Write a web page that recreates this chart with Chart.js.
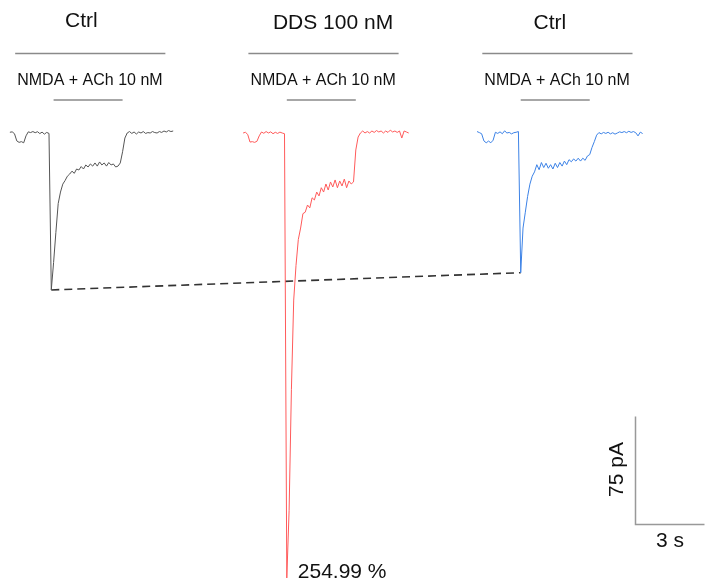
<!DOCTYPE html>
<html>
<head>
<meta charset="utf-8">
<script src="https://cdn.jsdelivr.net/npm/chart.js@4"></script>
<style>
  body { margin: 0; background: #fff; }
  canvas { display: block; }
</style>
</head>
<body>
<canvas id="traces" width="725" height="582"></canvas>
<script>
const dt = 0.1;
const ctrlTrace1 = [0.5, 0.8, -0.5, -5.5, -6.5, -6, -6.8, -2, 0.8, 0.3, 1, 0.2, 0.9, -0.4, 0.6, -0.8, 0.4, -0.3,
  -109, -90, -69, -49, -41, -35.5, -33, -30, -28.5, -26.5, -28, -25, -25.7, -23.3, -25, -22.2, -23.6, -21.5,
  -23, -20.8, -23, -20.1, -22.2, -20.8, -23, -20.5, -22.2, -21.5, -23.6, -23, -20.8, -13, -3.5, 0,
  1, -0.3, 0.7, -0.7, 0.7, 0, 1, -0.3, 0.3, 0, 1, 0.3, 0, 1, 0.4, 1.4, 0.7, 1.7, 1, 1.4];
const ddsTrace = [0, 0.5, -1, -6.3, -6, -6.5, -5.8, -2, 0.7, -0.2, 1, 0, 0.8, -0.5, 0.5, -0.3, 0.6, 0, -0.5,
  -309, -262, -178, -116, -92, -74, -66, -56, -55, -50, -52, -45, -46.5, -41, -43.7, -38, -41, -35.4,
  -39.6, -34, -37.5, -32.6, -38, -33.3, -36.8, -32, -38, -33.3, -35.4, -34, -11.8, -2.8, 0,
  1.4, 0, 1, 0, 1.4, 0.4, 1.7, 0.7, 1.4, 0, 1.4, 0.4, 2, 0.7, 1.4, 0.4, 1.4, -3.5, 1.4, 0.7, 0];
const ctrlTrace2 = [1, 0.3, -0.5, -5.5, -6.8, -5.6, -6.8, -5, 0.5, -0.3, 0.8, -0.5, 1.5, 0, 0.4, -0.6, 0.2, 0.5, 1,
  -97, -66, -55, -44, -35.5, -30, -27, -22, -25.5, -20.5, -24, -21, -24.5, -22, -25, -21, -24, -20.5,
  -23, -19.5, -22, -18.5, -20, -18, -19.5, -17.5, -19.5, -17.5, -19, -16, -15, -10, -6, -1.5,
  0.3, -0.6, 0.4, -0.3, 0.5, -0.6, 0.2, -0.8, 0, 0.8, 0.3, 1, 0.2, 1.2, 0.4, 1, 0.2, -2, 0.6, -0.4];

const traceStart = [0.43, 10.57, 20.74];      // s
const traceColors = ['#555555', '#ff5a5a', '#3c82e6'];
const conditionLabels = ['Ctrl', 'DDS 100 nM', 'Ctrl'];
const agonistLabel = 'NMDA + ACh 10 nM';
const peakLabel = '254.99 %';
const scaleBarTime = 3;       // s
const scaleBarCurrent = 75;   // pA
const scaleBarLabels = ['3 s', '75 pA'];

// Converte um traço em pontos {x, y}
function toPoints(values, start) {
    return values.map((v, i) => ({ x: start + i * dt, y: v }));
}

// Pico (mínimo) de um traço
function peakPoint(values, start) {
    let idx = 0;
    values.forEach((v, i) => { if (v < values[idx]) idx = i; });
    return { x: start + idx * dt, y: values[idx] };
}

const traces = [ctrlTrace1, ddsTrace, ctrlTrace2];

const datasets = traces.map((t, k) => ({
    data: toPoints(t, traceStart[k]),
    borderColor: traceColors[k],
    borderWidth: 1,
    pointRadius: 0,
    showLine: true,
    tension: 0
}));

// Linha tracejada entre os picos dos controles
datasets.push({
    data: [peakPoint(ctrlTrace1, traceStart[0]), peakPoint(ctrlTrace2, traceStart[2])],
    borderColor: '#333333',
    borderWidth: 1.6,
    borderDash: [8, 5],
    pointRadius: 0,
    showLine: true
});

const FONT = '"Liberation Sans", Arial, sans-serif';

// Anotações: títulos, barras de aplicação e barra de escala
const annotations = {
    id: 'annotations',
    afterDatasetsDraw(chart) {
        const { ctx, scales: { x, y } } = chart;
        ctx.save();
        ctx.fillStyle = '#111';
        ctx.textAlign = 'center';
        ctx.textBaseline = 'middle';

        const titleShift = [3.11, 3.91, 3.17];   // s, centro do título a partir do início do traço

        traceStart.forEach((s, k) => {
            ctx.font = '21px ' + FONT;
            ctx.fillText(conditionLabels[k], x.getPixelForValue(s + titleShift[k]), k === 0 ? 21 : 23);

            ctx.font = '16px ' + FONT;
            ctx.fillText(agonistLabel, x.getPixelForValue(s + 3.48), 81);

            ctx.strokeStyle = '#8a8a8a';
            ctx.lineWidth = 1.5;
            ctx.beginPath();
            ctx.moveTo(x.getPixelForValue(s + 0.23), 53.5);
            ctx.lineTo(x.getPixelForValue(s + 6.76), 53.5);
            ctx.moveTo(x.getPixelForValue(s + 1.9), 100);
            ctx.lineTo(x.getPixelForValue(s + 4.9), 100);
            ctx.stroke();
        });

        // Rótulo do pico
        const pk = peakPoint(ddsTrace, traceStart[1]);
        ctx.font = '21px ' + FONT;
        ctx.textAlign = 'left';
        ctx.fillText(peakLabel, x.getPixelForValue(pk.x) + 11, 572);

        // Barra de escala
        const x0 = 635.5, y0 = 524.5;
        const xLen = x.getPixelForValue(scaleBarTime) - x.getPixelForValue(0);
        const yLen = y.getPixelForValue(0) - y.getPixelForValue(scaleBarCurrent);
        ctx.strokeStyle = '#999';
        ctx.lineWidth = 1.5;
        ctx.beginPath();
        ctx.moveTo(x0, y0 - yLen);
        ctx.lineTo(x0, y0);
        ctx.lineTo(x0 + xLen, y0);
        ctx.stroke();

        ctx.font = '21px ' + FONT;
        ctx.textAlign = 'center';
        ctx.fillText(scaleBarLabels[0], x0 + xLen / 2, y0 + 17);
        ctx.translate(x0 - 18, y0 - yLen / 2 - 1);
        ctx.rotate(-Math.PI / 2);
        ctx.fillText(scaleBarLabels[1], 0, 0);
        ctx.restore();
    }
};

new Chart(document.getElementById('traces'), {
    type: 'scatter',
    data: { datasets: datasets },
    options: {
        responsive: false,
        animation: false,
        layout: { padding: 0 },
        plugins: { legend: { display: false }, tooltip: { enabled: false } },
        scales: {
            x: { type: 'linear', display: false, min: 0, max: 725 / 23 },
            y: { type: 'linear', display: false, min: -311.8, max: 92.36 }
        }
    },
    plugins: [annotations]
});
</script>
</body>
</html>
